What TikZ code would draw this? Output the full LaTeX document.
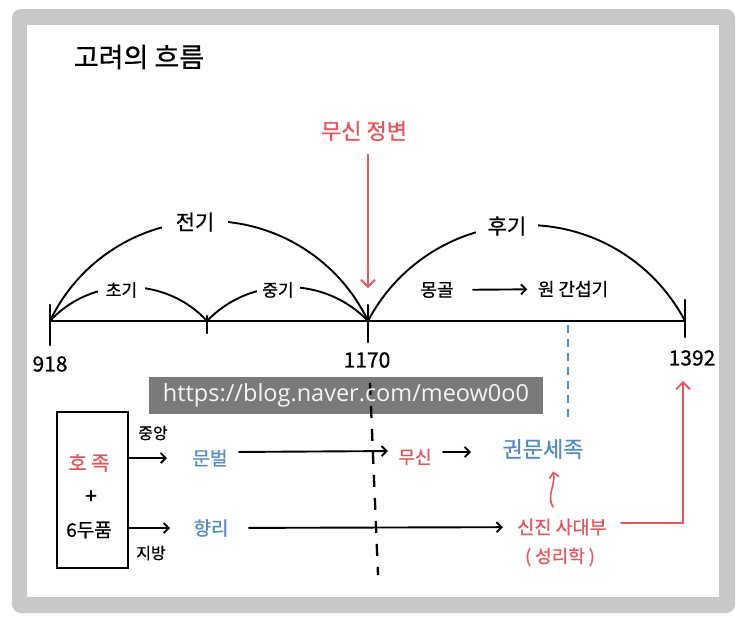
\documentclass[tikz,border=0pt]{standalone}
\usepackage{fontspec}
\setmainfont{Noto Sans CJK KR}[FakeBold=0.8]
\newfontfamily\wmfont{Open Sans}
\usetikzlibrary{arrows.meta,calc}
\definecolor{hjred}{RGB}{229,87,92}
\definecolor{hjblue}{RGB}{86,140,196}
\definecolor{framegray}{RGB}{200,200,200}
\newcommand{\kfs}[1]{\fontsize{#1}{#1}\selectfont}

\begin{document}
\begin{tikzpicture}[x=1pt,y=-1pt,
  line/.style={line width=1.9pt,line cap=round},
  arr/.style={line,-{Straight Barb[length=5pt,width=10pt,line width=1.9pt]}},
  redarr/.style={line,draw=hjred,-{Straight Barb[length=7pt,width=14pt,line width=1.9pt]}},
  gap/.style={fill=white,inner sep=0pt,minimum width=#1,minimum height=22pt},
  yr/.style={inner sep=1pt,font=\kfs{21}}]

  \useasboundingbox (0,0) rectangle (743,627);
  \fill[framegray,rounded corners=9pt] (12,9) rectangle (735,613);
  \fill[white] (27,25) rectangle (719,597);

  \node[font=\kfs{27}] (title) at (139,57) {고려의 흐름};

  % timeline
  \coordinate (t918) at (50,321);
  \coordinate (tmid) at (207,321);
  \coordinate (t1170) at (368,321);
  \coordinate (t1392) at (685,321);
  \draw[line,line width=2.3pt] (t918) -- (t1392);
  \foreach \x/\a/\b in {50/305/345, 207/316/333, 368/305/342, 685/300/337}
    \draw[line,line width=2.3pt] (\x,\a) -- (\x,\b);

  \draw[line] (t918) .. controls (79,260) and (141,221) .. (209,221)
    .. controls (277,221) and (339,260) .. (t1170);
  \draw[line] (t918) .. controls (70,299) and (99,287) .. (128.5,287)
    .. controls (158,287) and (187,299) .. (tmid);
  \draw[line] (tmid) .. controls (228,299) and (257,287) .. (287.5,287)
    .. controls (318,287) and (347,299) .. (t1170);
  \draw[line] (t1170) .. controls (399,262) and (460,225) .. (526.5,225)
    .. controls (593,225) and (654,262) .. (t1392);

  \node[gap=66pt,font=\kfs{21}] (jeongi) at (195,222) {전기};
  \node[gap=47pt,font=\kfs{17}] (chogi) at (121.5,290) {초기};
  \node[gap=43pt,font=\kfs{17}] (junggi) at (278,290) {중기};
  \node[gap=62pt,font=\kfs{21}] (hugi) at (507,226) {후기};

  \node[yr] (y918) at (50,364) {918};
  \node[yr] (y1170) at (367,360) {1170};
  \node[yr] (y1392) at (692,358) {1392};

  \node[font=\kfs{18}] (monggol) at (437,290) {몽골};
  \node[font=\kfs{18}] (wongan) at (573,289) {원 간섭기};
  \draw[arr,shorten <=16pt,shorten >=7pt] (monggol) -- (wongan);

  % 무신 정변
  \node[font=\kfs{22},text=hjred] (jeongbyeon) at (364,131) {무신 정변};
  \coordinate (hit) at (368,288);
  \draw[redarr,shorten <=10pt] (jeongbyeon.south -| hit) -- (hit);

  % lower part
  \node[draw,line width=1.9pt,minimum width=71pt,minimum height=156pt] (clan) at (92.5,490) {};
  \node[font=\kfs{20},text=hjred] (hojok) at (89,463) {호 족};
  \node[font=\kfs{21}] (plus) at (91,497) {+};
  \node[font=\kfs{19}] (dupum) at (89,530) {6두품};

  \node[font=\kfs{19},text=hjblue] (munbeol) at (210,458) {문벌};
  \node[font=\kfs{19},text=hjblue] (hyangri) at (211,528) {향리};
  \node[font=\kfs{18},text=hjred] (musin) at (415,457) {무신};
  \node[font=\kfs{22},text=hjblue] (gwon) at (543,449) {권문세족};
  \node[font=\kfs{18.5},text=hjred] (sadaebu) at (562,527) {신진 사대부};
  \node[font=\kfs{18},text=hjred] (seongri) at (560,557) {( 성리학 )};

  \node[font=\kfs{16}] (jungang) at (153,433) {중앙};
  \node[font=\kfs{16}] (jibang) at (151,553) {지방};

  \draw[arr,shorten >=22pt] (clan.east |- munbeol) -- (munbeol);
  \draw[arr,shorten >=20pt] (clan.east |- hyangri) -- (hyangri);
  \draw[arr,shorten <=8pt,shorten >=7pt] ([yshift=6pt]munbeol.east) -- ([yshift=6pt]musin.west);
  \draw[arr,shorten <=8pt,shorten >=28pt] ([yshift=5pt]musin.east) -- ([yshift=5pt]musin.east -| gwon.west);
  \draw[arr,shorten <=17pt,shorten >=11pt] (hyangri) -- (sadaebu);

  \draw[redarr,line width=1.6pt,-{Straight Barb[length=5pt,width=10pt,line width=1.6pt]}]
    ($(sadaebu.north)+(-9,-8)$) .. controls +(-7,-12) and +(3,14) .. ($(gwon.south)+(10,9)$);
  \coordinate (redtop) at (683,381);
  \draw[redarr,shorten <=11pt] ([yshift=4pt]sadaebu.east) -| (redtop);

  \coordinate (wonmark) at (568,325);
  \draw[hjblue,line width=1.9pt,dash pattern=on 8pt off 6pt,shorten >=13pt] (wonmark) -- (gwon.north -| wonmark);

  \coordinate (cuttop) at (370,383);
  \coordinate (cutbot) at (378,575);
  \draw[line,line width=2.3pt,line cap=butt,dash pattern=on 12pt off 11pt] (cuttop) -- (cutbot);

  % watermark
  \node[fill=black,fill opacity=0.52,text opacity=0.92,text=white,font=\wmfont\fontsize{23.5}{23.5}\selectfont,
    minimum width=394pt,minimum height=37pt,inner sep=0pt] (wm) at (346,395.5) {https://blog.naver.com/meow0o0};
\end{tikzpicture}
\end{document}
